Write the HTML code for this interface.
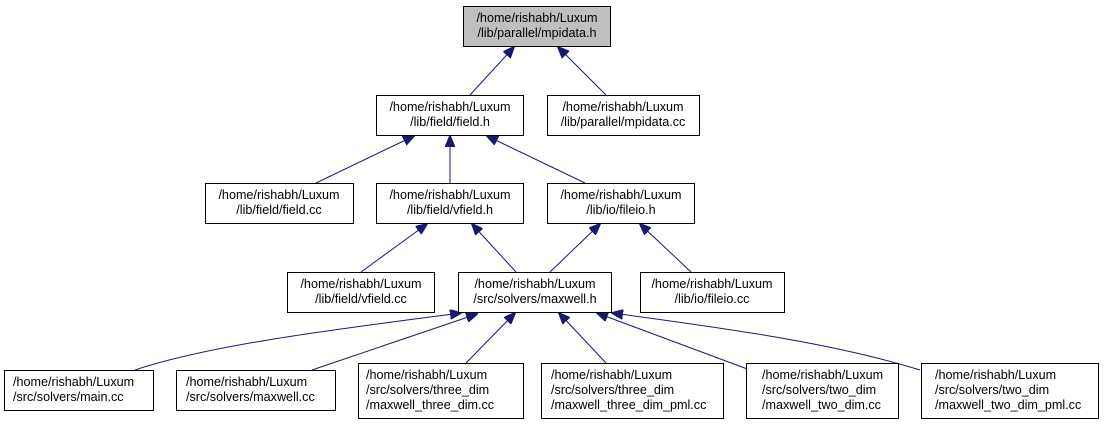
<!DOCTYPE html>
<html><head><meta charset="utf-8"><style>
html,body{margin:0;padding:0;background:#fff;width:1104px;height:424px;overflow:hidden}
svg{display:block}
text{font-family:"Liberation Sans",sans-serif;font-size:12.6px;fill:#000}
rect{stroke:#000;stroke-width:1;fill:#fff}
path,line{stroke:#191970;stroke-width:1;fill:none}
</style></head><body>
<svg width="1104" height="424" viewBox="0 0 1104 424">
<defs><marker id="a" markerWidth="12" markerHeight="10" refX="11" refY="5" orient="auto" markerUnits="userSpaceOnUse"><polygon points="0,0 12,5 0,10" fill="#191970" stroke="#191970"/></marker></defs>
<line x1="470" y1="95" x2="514" y2="47" marker-end="url(#a)"/>
<line x1="606" y1="95" x2="558" y2="47" marker-end="url(#a)"/>
<line x1="316" y1="183" x2="414" y2="136" marker-end="url(#a)"/>
<line x1="450" y1="183" x2="450" y2="136" marker-end="url(#a)"/>
<line x1="585" y1="183" x2="487" y2="136" marker-end="url(#a)"/>
<line x1="361" y1="272" x2="427" y2="224" marker-end="url(#a)"/>
<line x1="516" y1="272" x2="472" y2="224" marker-end="url(#a)"/>
<line x1="550" y1="272" x2="600" y2="224" marker-end="url(#a)"/>
<line x1="691" y1="272" x2="640" y2="224" marker-end="url(#a)"/>
<path d="M135,370 C210,345 330,330 461,313" marker-end="url(#a)"/>
<line x1="312" y1="370" x2="477" y2="314" marker-end="url(#a)"/>
<line x1="466" y1="363" x2="515" y2="313" marker-end="url(#a)"/>
<line x1="606" y1="363" x2="559" y2="313" marker-end="url(#a)"/>
<line x1="750" y1="370" x2="597" y2="313" marker-end="url(#a)"/>
<path d="M920,370 C840,345 740,330 612,313" marker-end="url(#a)"/>
<rect x="463.5" y="6.5" width="147" height="40" style="fill:#bfbfbf"/>
<text x="537" y="22" text-anchor="middle">/home/rishabh/Luxum</text><text x="537" y="37" text-anchor="middle">/lib/parallel/mpidata.h</text>
<rect x="376.5" y="95.5" width="147" height="40"/>
<text x="450" y="111" text-anchor="middle">/home/rishabh/Luxum</text><text x="450" y="126" text-anchor="middle">/lib/field/field.h</text>
<rect x="547.5" y="95.5" width="152" height="40"/>
<text x="623" y="111" text-anchor="middle">/home/rishabh/Luxum</text><text x="623" y="126" text-anchor="middle">/lib/parallel/mpidata.cc</text>
<rect x="205.5" y="183.5" width="148" height="40"/>
<text x="279" y="199" text-anchor="middle">/home/rishabh/Luxum</text><text x="279" y="214" text-anchor="middle">/lib/field/field.cc</text>
<rect x="376.5" y="183.5" width="147" height="40"/>
<text x="450" y="199" text-anchor="middle">/home/rishabh/Luxum</text><text x="450" y="214" text-anchor="middle">/lib/field/vfield.h</text>
<rect x="547.5" y="183.5" width="147" height="40"/>
<text x="621" y="199" text-anchor="middle">/home/rishabh/Luxum</text><text x="621" y="214" text-anchor="middle">/lib/io/fileio.h</text>
<rect x="287.5" y="272.5" width="147" height="40"/>
<text x="361" y="288" text-anchor="middle">/home/rishabh/Luxum</text><text x="361" y="303" text-anchor="middle">/lib/field/vfield.cc</text>
<rect x="458.5" y="272.5" width="153" height="40"/>
<text x="535" y="288" text-anchor="middle">/home/rishabh/Luxum</text><text x="535" y="303" text-anchor="middle">/src/solvers/maxwell.h</text>
<rect x="640.5" y="272.5" width="144" height="40"/>
<text x="712" y="288" text-anchor="middle">/home/rishabh/Luxum</text><text x="712" y="303" text-anchor="middle">/lib/io/fileio.cc</text>
<rect x="4.5" y="370.5" width="149" height="40"/>
<text x="13" y="386">/home/rishabh/Luxum</text><text x="13" y="401">/src/solvers/main.cc</text>
<rect x="176.5" y="370.5" width="159" height="40"/>
<text x="186" y="386">/home/rishabh/Luxum</text><text x="186" y="401">/src/solvers/maxwell.cc</text>
<rect x="358.5" y="363.5" width="165" height="55"/>
<text x="366" y="379">/home/rishabh/Luxum</text><text x="366" y="394">/src/solvers/three_dim</text><text x="366" y="409">/maxwell_three_dim.cc</text>
<rect x="541.5" y="363.5" width="182" height="55"/>
<text x="551" y="379">/home/rishabh/Luxum</text><text x="551" y="394">/src/solvers/three_dim</text><text x="551" y="409">/maxwell_three_dim_pml.cc</text>
<rect x="746.5" y="363.5" width="152" height="55"/>
<text x="762" y="379">/home/rishabh/Luxum</text><text x="762" y="394">/src/solvers/two_dim</text><text x="762" y="409">/maxwell_two_dim.cc</text>
<rect x="921.5" y="363.5" width="177" height="55"/>
<text x="935" y="379">/home/rishabh/Luxum</text><text x="935" y="394">/src/solvers/two_dim</text><text x="935" y="409">/maxwell_two_dim_pml.cc</text>
</svg>
</body></html>
